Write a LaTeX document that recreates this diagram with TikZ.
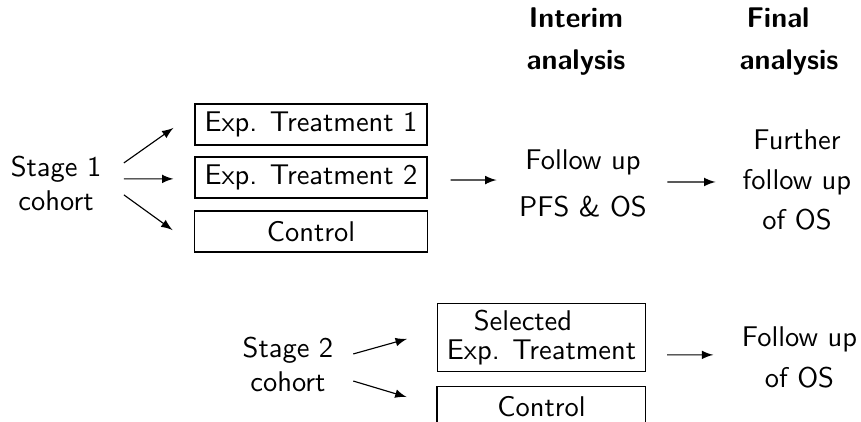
\documentclass[tikz,border=0pt]{standalone}
\renewcommand{\familydefault}{\sfdefault}

\tikzset{
  arm/.style={draw,inner xsep=3.33pt,inner ysep=2.5pt,minimum height=14.4pt},
  heading/.style={font=\bfseries,align=center},
  label/.style={align=center},
}

\begin{document}
\begin{tikzpicture}[>=latex]
  \useasboundingbox (0,0) rectangle (10.62,5.205);

  % Headings
  \node[heading] (interim) at (7.104,4.691) {Interim\\[2.7pt]analysis};
  \node[heading] (final) at (9.732,4.691) {Final\kern7.7pt\\[2.7pt]analysis};

  % Stage 1
  \node[label] (stage1) at (0.691,2.942) {Stage 1\\cohort};
  \node[arm] (et1) at (3.836,3.669) {Exp. Treatment 1};
  \node[arm] (et2) at (3.836,3.016) {Exp. Treatment 2};
  \node[arm,minimum width=82pt] (ctl1) at (3.836,2.350) {Control};
  \node[label] (fu) at (7.191,2.942) {Follow up\\[4.5pt]PFS \& OS};
  \node[label] (fur) at (9.830,2.985) {Further\\[2pt]follow up\\[2pt]of OS};

  \foreach \b/\s/\e in {et1/7.2/-1.2, et2/1.6/-0.5, ctl1/-4.0/0.5}
    \draw[->] ([shift={(4.4pt,\s pt)}]stage1.east) -- ([shift={(-7.4pt,\e pt)}]\b.west);
  \draw[->] ([shift={(8.1pt,-0.9pt)}]et2.east) -- ([shift={(-4.4pt,1.2pt)}]fu.west);
  \draw[->] ([shift={(3.7pt,0.5pt)}]fu.east) -- ([shift={(-6.0pt,-0.7pt)}]fur.west);

  % Stage 2
  \node[label] (stage2) at (3.552,0.709) {Stage 2\\cohort};
  \node[arm,align=center] (sel) at (6.679,1.042) {Selected\kern13pt\\[-2pt]Exp. Treatment};
  \node[arm,minimum width=73.3pt] (ctl2) at (6.679,0.185) {Control};
  \node[label] (fos) at (9.861,0.796) {Follow up\\[2.4pt]of OS};

  \draw[->] ([shift={(3.5pt,3.7pt)}]stage2.east) -- ([shift={(-10.5pt,-0.5pt)}]sel.west);
  \draw[->] ([shift={(3.5pt,-5.8pt)}]stage2.east) -- ([shift={(-10.5pt,3.5pt)}]ctl2.west);
  \draw[->] ([shift={(7.4pt,-6.1pt)}]sel.east) -- ([shift={(-6.5pt,0.9pt)}]fos.west);
\end{tikzpicture}
\end{document}
